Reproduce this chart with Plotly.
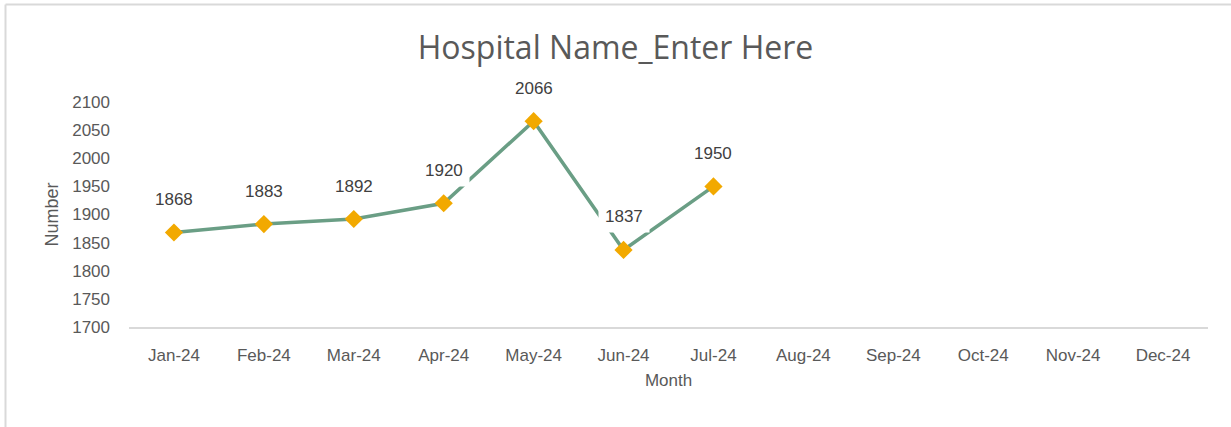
import plotly.graph_objects as go

months = ["Jan-24", "Feb-24", "Mar-24", "Apr-24", "May-24", "Jun-24",
          "Jul-24", "Aug-24", "Sep-24", "Oct-24", "Nov-24", "Dec-24"]
values = [1868, 1883, 1892, 1920, 2066, 1837, 1950]
y_ticks = [1700, 1750, 1800, 1850, 1900, 1950, 2000, 2050, 2100]

title_text = "Hospital Name_Enter Here"
x_title = "Month"
y_title = "Number"

sans = "Liberation Sans, Arial, sans-serif"
line_color = "#6A9E85"
marker_color = "#F2A900"
axis_text = "#595959"

fig = go.Figure()
fig.add_trace(go.Scatter(
    x=months[:len(values)], y=values, mode="lines+markers",
    line=dict(color=line_color, width=3.5),
    marker=dict(symbol="diamond", size=14, color=marker_color),
    hoverinfo="x+y", showlegend=False,
))

annotations = []
for m, v in zip(months, values):
    annotations.append(dict(
        x=m, y=v, xref="x", yref="y", text=str(v), showarrow=False,
        yshift=33, bgcolor="white", borderpad=6,
        font=dict(family=sans, size=17, color="#404040"),
    ))

fig.update_layout(
    width=1231, height=427,
    margin=dict(l=129, r=23, t=102, b=100, autoexpand=False),
    paper_bgcolor="white", plot_bgcolor="white",
    title=dict(text=title_text, x=0.5, xanchor="center", y=1 - 48 / 427, yanchor="middle",
               font=dict(family="Open Sans, Noto Sans, sans-serif", size=32, color=axis_text)),
    xaxis=dict(
        categoryorder="array", categoryarray=months, type="category",
        range=[-0.5, len(months) - 0.5],
        showgrid=False, showline=True, linecolor="#D9D9D9", linewidth=1.5,
        ticks="", ticklabelstandoff=12, zeroline=False,
        tickfont=dict(family=sans, size=17, color=axis_text),
        title=dict(text=x_title, standoff=10, font=dict(family=sans, size=17, color=axis_text)),
    ),
    yaxis=dict(
        range=[1700, 2100], tickvals=y_ticks, showgrid=False, showline=False,
        zeroline=False, ticks="", ticklabelstandoff=18,
        tickfont=dict(family=sans, size=17, color=axis_text),
        title=dict(text=y_title, standoff=8, font=dict(family=sans, size=18, color=axis_text)),
    ),
    annotations=annotations,
    shapes=[
        dict(type="line", xref="paper", yref="paper", x0=(5.5 - 129) / 1079, x1=1.2,
             y0=(327 - 4.5) / 225, y1=(327 - 4.5) / 225, line=dict(color="#D9D9D9", width=2)),
        dict(type="line", xref="paper", yref="paper", x0=(5.5 - 129) / 1079, x1=(5.5 - 129) / 1079,
             y0=(327 - 4.5) / 225, y1=-0.6, line=dict(color="#D9D9D9", width=2)),
    ],
)

fig.write_html("out.html", config={"displayModeBar": False},
               post_script="document.body.style.margin='0';")
